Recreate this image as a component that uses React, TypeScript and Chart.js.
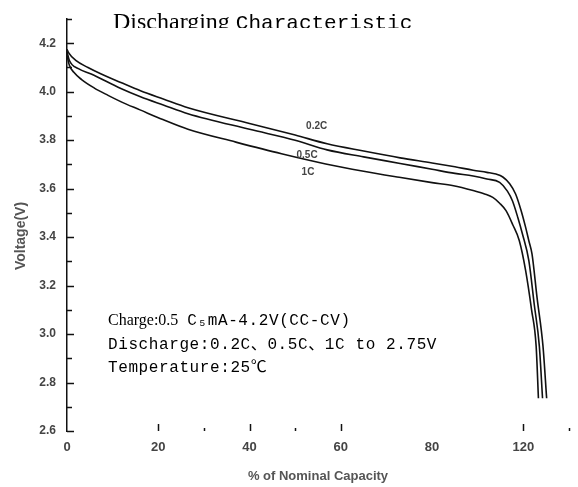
import React, { useEffect, useRef } from "react";
import { Chart, registerables } from "chart.js";

Chart.register(...registerables);

// ---- Data ----
const capacity02 = [0, 0.3, 2, 4.6, 7.5, 11.8, 16.1, 21.1, 26.5, 40, 50, 57, 65, 73, 80, 85, 89, 92, 94, 95.5, 97, 98.3, 99.5, 100.5, 101.2, 101.9, 103, 104.3, 105.1];
const voltage02 = [4.175, 4.162, 4.128, 4.1, 4.073, 4.038, 4.004, 3.97, 3.934, 3.869, 3.821, 3.785, 3.755, 3.727, 3.706, 3.69, 3.676, 3.667, 3.66, 3.648, 3.62, 3.578, 3.51, 3.44, 3.385, 3.33, 3.15, 2.95, 2.735];

const capacity05 = [0, 0.5, 2.5, 5.3, 11.8, 16.1, 21.1, 26.5, 40, 50, 57, 65, 73, 80, 85, 89, 92, 94.8, 96.5, 97.6, 98.8, 99.8, 101.2, 102.4, 103.5, 104.2];
const voltage05 = [4.165, 4.13, 4.095, 4.073, 4.013, 3.979, 3.945, 3.909, 3.845, 3.8, 3.76, 3.731, 3.704, 3.68, 3.663, 3.652, 3.64, 3.626, 3.59, 3.55, 3.48, 3.413, 3.303, 3.12, 2.95, 2.735];

const capacity1 = [0, 0.5, 1.5, 3.2, 6, 9, 12, 16, 21, 26.5, 37, 47, 56.7, 65, 72.8, 80, 84.7, 89, 91.5, 93.3, 94.8, 96.2, 97.7, 99.1, 100.5, 101.8, 102.8, 103.3];
const voltage1 = [4.15, 4.11, 4.08, 4.05, 4.015, 3.985, 3.957, 3.925, 3.885, 3.845, 3.792, 3.744, 3.702, 3.672, 3.647, 3.625, 3.612, 3.592, 3.578, 3.564, 3.54, 3.509, 3.45, 3.386, 3.262, 3.1, 2.95, 2.735];

const seriesNames = ["0.2C", "0.5C", "1C"];
const seriesLabelX = [54.7, 52.6, 52.8];
const seriesLabelV = [3.856, 3.736, 3.666];

const yMajorTicks = [4.2, 4.0, 3.8, 3.6, 3.4, 3.2, 3.0, 2.8, 2.6];
const yTickLabels = ["4.2", "4.0", "3.8", "3.6", "3.4", "3.2", "3.0", "2.8", "2.6"];
const yMinorTicks = [4.3, 4.1, 3.9, 3.7, 3.5, 3.3, 3.1, 2.9, 2.7];

const xTickValues = [0, 20, 40, 60, 80, 100];
const xTickLabels = ["0", "20", "40", "60", "80", "120"];
const xMajorTicks = [20, 40, 60, 100];
const xMinorTicks = [30, 50, 110];

const titleSerif = "Discharging";
const titleMono = "Characteristic";
const chargeSerif = "Charge:0.5";
const chargeRest = "C\u2085mA-4.2V(CC-CV)";
const dischargeText = "Discharge:0.2C\u30010.5C\u30011C to 2.75V";
const temperatureText = "Temperature:25\u2103";
const xTitle = "% of Nominal Capacity";
const yTitle = "Voltage(V)";

function toPoints(xs: number[], ys: number[]) {
  return xs.map((x, i) => ({ x, y: ys[i] }));
}

const decorPlugin = {
  id: "decor",
  afterDraw(chart: any) {
    const ctx = chart.ctx as CanvasRenderingContext2D;
    const xs = chart.scales.x;
    const ys = chart.scales.y;
    const area = chart.chartArea;
    ctx.save();
    ctx.strokeStyle = "#111";
    ctx.lineWidth = 1.5;
    // y ticks (inside)
    yMajorTicks.forEach((v) => {
      const py = Math.round(ys.getPixelForValue(v)) + 0.5;
      ctx.beginPath();
      ctx.moveTo(area.left, py);
      ctx.lineTo(area.left + 7, py);
      ctx.stroke();
    });
    yMinorTicks.forEach((v) => {
      const py = Math.round(ys.getPixelForValue(v)) + 0.5;
      ctx.beginPath();
      ctx.moveTo(area.left, py);
      ctx.lineTo(area.left + 5, py);
      ctx.stroke();
    });
    // x ticks (inside)
    xMajorTicks.forEach((v) => {
      const px = Math.round(xs.getPixelForValue(v)) + 0.5;
      ctx.beginPath();
      ctx.moveTo(px, area.bottom);
      ctx.lineTo(px, area.bottom - 7);
      ctx.stroke();
    });
    xMinorTicks.forEach((v) => {
      const px = Math.round(xs.getPixelForValue(v)) + 0.5;
      ctx.beginPath();
      ctx.moveTo(px, area.bottom);
      ctx.lineTo(px, area.bottom - 3);
      ctx.stroke();
    });

    // title (clipped at bottom like the reference)
    ctx.save();
    ctx.beginPath();
    ctx.rect(0, 0, chart.width, 28);
    ctx.clip();
    ctx.fillStyle = "#000";
    ctx.textBaseline = "alphabetic";
    ctx.textAlign = "left";
    ctx.font = "24px 'Liberation Serif'";
    ctx.fillText(titleSerif, 113, 29);
    const w1 = ctx.measureText(titleSerif).width;
    ctx.font = "21px 'Liberation Mono'";
    ctx.fillText(titleMono, 113 + w1 + 6, 29);
    ctx.restore();

    // annotation block
    ctx.fillStyle = "#000";
    ctx.textAlign = "left";
    ctx.textBaseline = "alphabetic";
    ctx.font = "16px 'Liberation Serif'";
    ctx.fillText(chargeSerif, 108, 325);
    const wc = ctx.measureText(chargeSerif).width;
    ctx.font = "16px 'Liberation Mono', 'Noto Sans CJK SC'";
    (ctx as any).letterSpacing = "0.6px";
    ctx.fillText(chargeRest, 108 + wc + 9, 325);
    ctx.fillText(dischargeText, 108, 349);
    ctx.fillText(temperatureText, 108, 372);
    (ctx as any).letterSpacing = "0px";

    // series labels
    ctx.font = "bold 10px 'Liberation Sans'";
    ctx.fillStyle = "#444";
    ctx.textAlign = "center";
    ctx.textBaseline = "middle";
    seriesNames.forEach((n, i) => {
      ctx.fillText(n, xs.getPixelForValue(seriesLabelX[i]), ys.getPixelForValue(seriesLabelV[i]));
    });

    // axis titles
    ctx.font = "bold 13px 'Liberation Sans'";
    ctx.fillStyle = "#555";
    ctx.textAlign = "center";
    ctx.textBaseline = "middle";
    ctx.fillText(xTitle, (area.left + area.right) / 2, 476);
    ctx.save();
    ctx.translate(21, (area.top + area.bottom) / 2 + 11);
    ctx.rotate(-Math.PI / 2);
    ctx.font = "bold 14px 'Liberation Sans'";
    ctx.fillText(yTitle, 0, 0);
    ctx.restore();
    ctx.restore();
  },
};

export default function App() {
  const canvasRef = useRef<HTMLCanvasElement | null>(null);

  useEffect(() => {
    document.body.style.margin = "0";
    const canvas = canvasRef.current;
    if (!canvas) return;
    const lineStyle = {
      borderColor: "#111",
      borderWidth: 1.6,
      pointRadius: 0,
      showLine: true,
      fill: false,
      tension: 0.3,
      cubicInterpolationMode: "monotone" as const,
    };
    const chart = new Chart(canvas, {
      type: "scatter",
      data: {
        datasets: [
          { label: seriesNames[0], data: toPoints(capacity02, voltage02), ...lineStyle },
          { label: seriesNames[1], data: toPoints(capacity05, voltage05), ...lineStyle },
          { label: seriesNames[2], data: toPoints(capacity1, voltage1), ...lineStyle },
        ],
      },
      options: {
        animation: false,
        responsive: false,
        devicePixelRatio: 1,
        layout: { padding: { top: 19, right: 1, left: 0, bottom: 0 } },
        plugins: {
          legend: { display: false },
          title: { display: false },
          tooltip: { enabled: false },
        },
        scales: {
          x: {
            type: "linear",
            min: 0,
            max: 110,
            grid: { display: false, drawTicks: false },
            border: { display: false },
            ticks: {
              stepSize: 10,
              autoSkip: false,
              maxRotation: 0,
              padding: 9,
              color: "#444",
              font: { family: "'Liberation Sans'", size: 13, weight: "bold" },
              callback: (v: any) => {
                const idx = xTickValues.indexOf(Math.round(Number(v)));
                return idx >= 0 ? xTickLabels[idx] : "";
              },
            },
            afterFit: (s: any) => {
              s.height = 56;
            },
          },
          y: {
            type: "linear",
            min: 2.6,
            max: 4.3,
            grid: { display: false, drawTicks: false },
            border: { display: true, color: "#111", width: 1.5 },
            ticks: {
              stepSize: 0.1,
              autoSkip: false,
              padding: 11,
              color: "#444",
              font: { family: "'Liberation Sans'", size: 12, weight: "bold" },
              callback: (v: any) => {
                const r = Math.round(Number(v) * 10) / 10;
                const idx = yMajorTicks.findIndex((m) => Math.abs(m - r) < 1e-6);
                return idx >= 0 ? yTickLabels[idx] : "";
              },
            },
            afterFit: (s: any) => {
              s.width = 67;
            },
          },
        },
      },
      plugins: [decorPlugin],
    });
    return () => chart.destroy();
  }, []);

  return (
    <div style={{ width: 578, height: 487, background: "#fff" }}>
      <canvas ref={canvasRef} width={578} height={487} style={{ display: "block" }} />
    </div>
  );
}
